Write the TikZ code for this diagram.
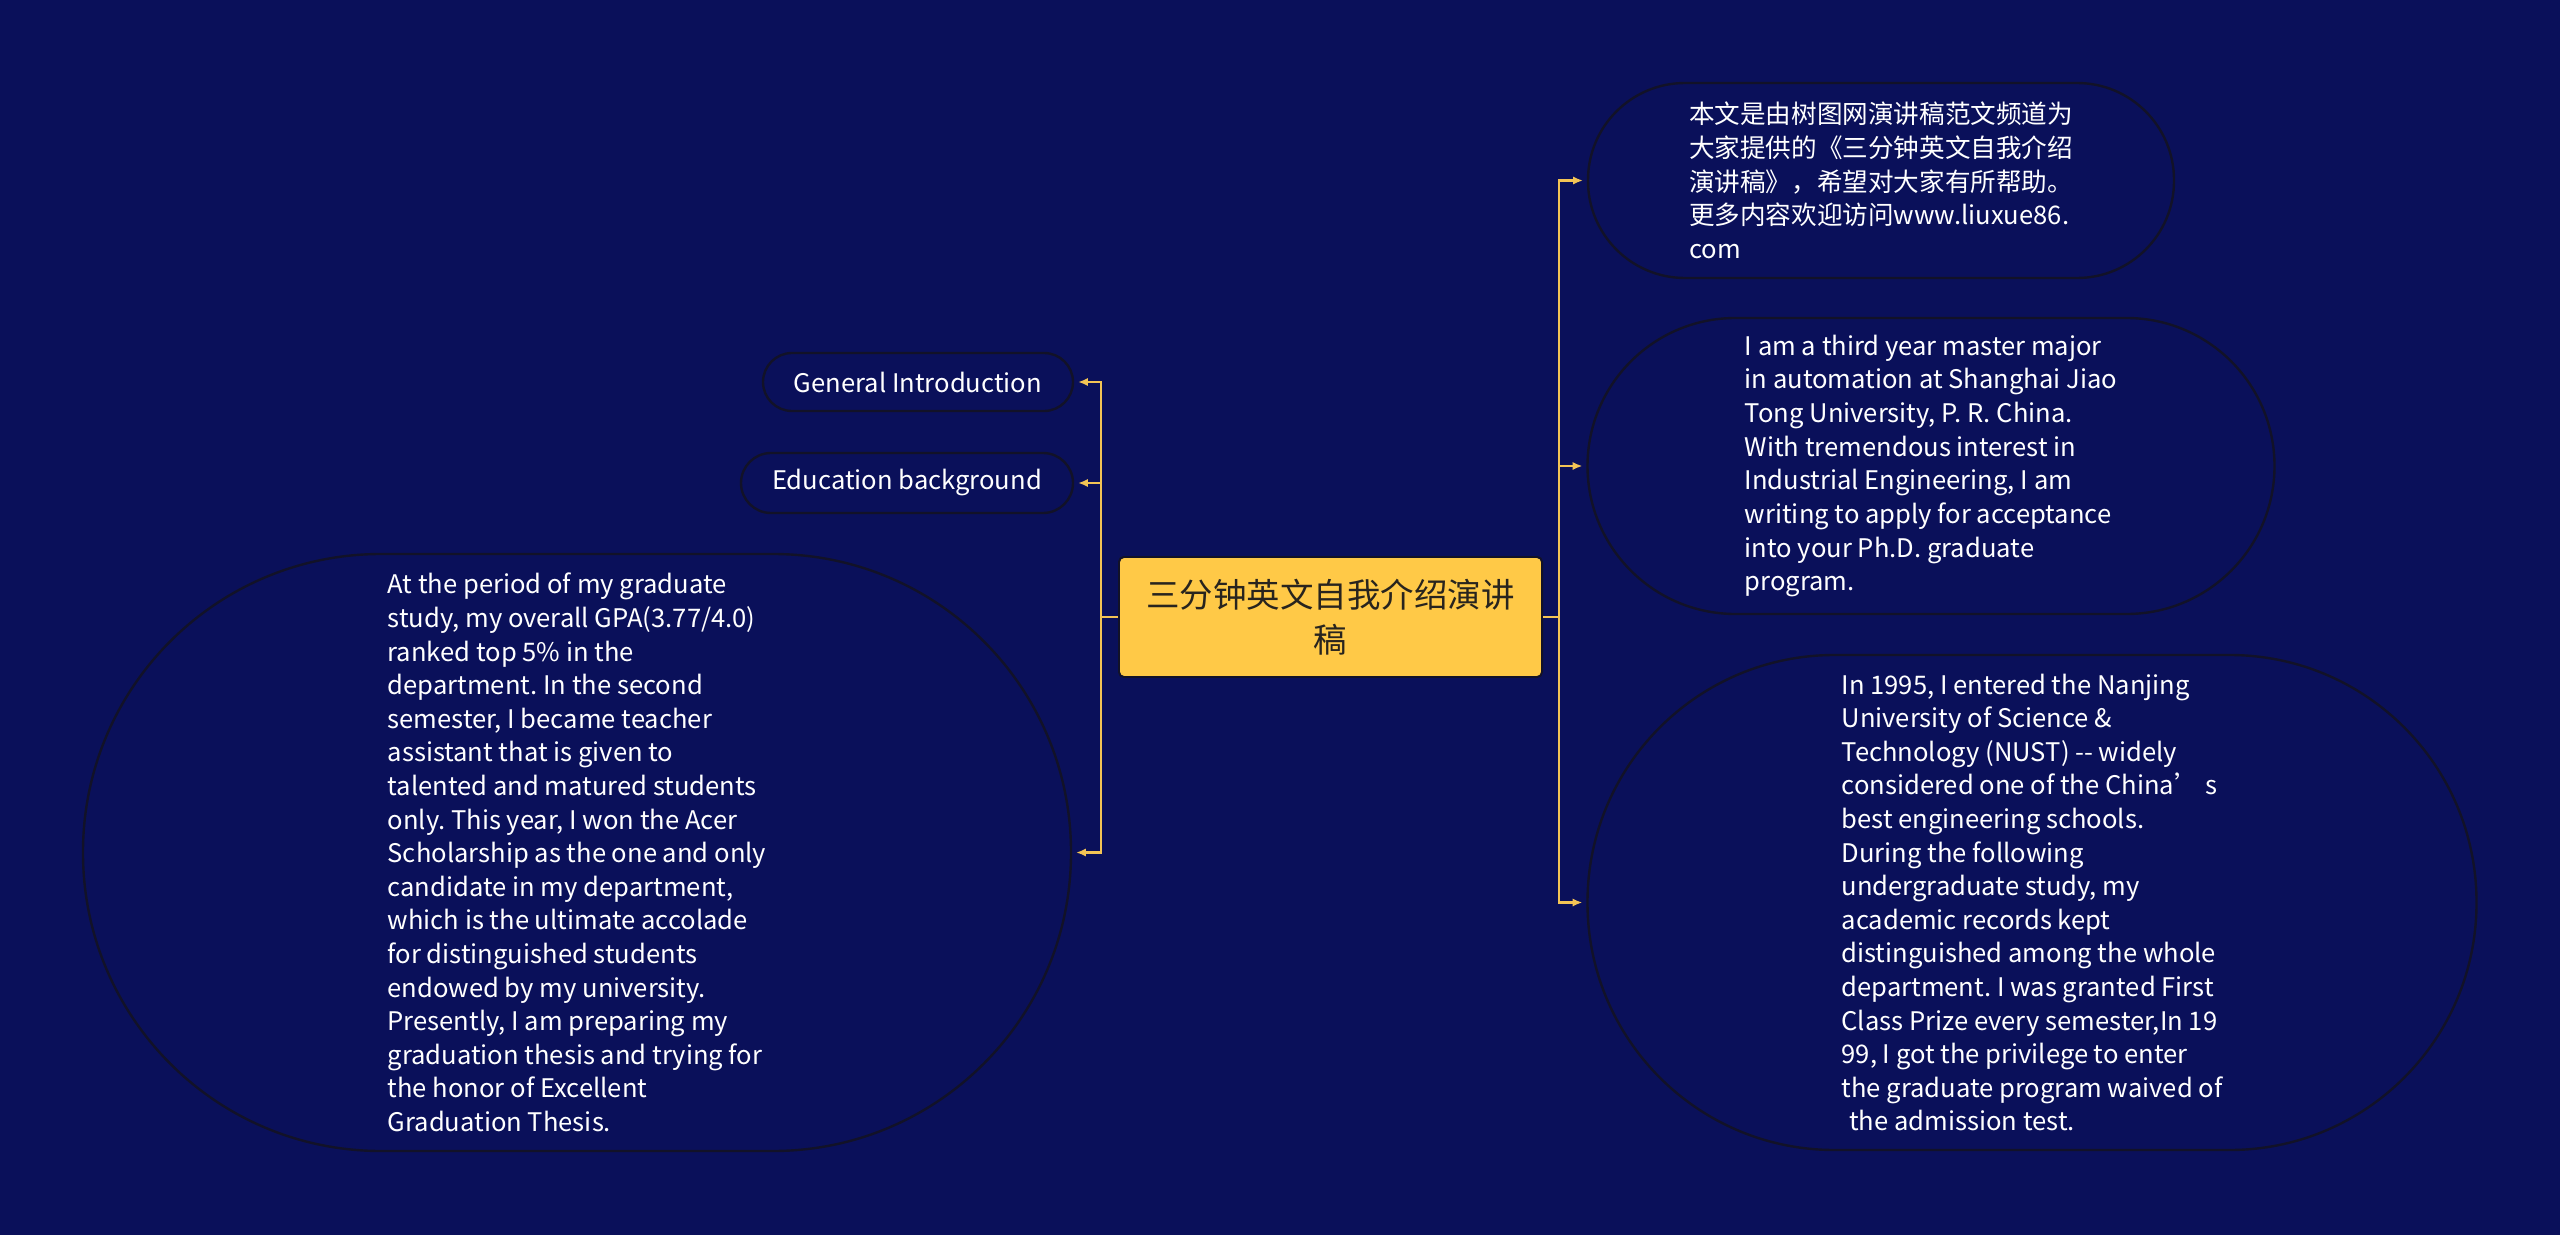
\documentclass[tikz,border=0pt]{standalone}
\usepackage{fontspec}
\setmainfont{Noto Sans CJK SC}
\usetikzlibrary{arrows.meta}
\frenchspacing
\definecolor{bgnavy}{RGB}{10,16,90}
\definecolor{nodeline}{RGB}{18,18,40}
\definecolor{gold}{RGB}{255,201,71}
\definecolor{connline}{RGB}{243,196,85}
\definecolor{darktext}{RGB}{40,36,30}
\tikzset{
  bodyfont/.style={font=\fontsize{18.2pt}{23.9pt}\selectfont\frenchspacing},
  pill/.style={draw=nodeline, line width=1.7pt, fill=bgnavy, text=white,
    inner sep=0pt, align=left, bodyfont},
  rootbox/.style={draw=nodeline, line width=1.4pt, fill=gold, text=darktext,
    rounded corners=3.5pt, align=center, inner sep=0pt,
    font=\fontsize{23.8pt}{32pt}\selectfont},
  conn/.style={draw=connline, line width=1.9pt,
    -{Latex[length=7pt,width=6pt]}, shorten >=2.8pt},
}
\begin{document}
\begin{tikzpicture}[x=0.025cm,y=-0.025cm]
\fill[bgnavy] (0,0) rectangle (2560,1235);
\useasboundingbox (0,0) rectangle (2560,1235);

\node[rootbox, minimum width=423*0.025cm, minimum height=120*0.025cm] (root) at (1330.5,617)
  {三分钟英文自我介绍演讲\\稿};

% left side
\node[pill, minimum width=310*0.025cm, minimum height=58*0.025cm, rounded corners=29*0.025cm] (gi) at (918,382)
  {General Introduction};
\node[pill, minimum width=332*0.025cm, minimum height=60*0.025cm, rounded corners=30*0.025cm] (eb) at (907,483)
  {Education background};
\node[pill, minimum width=988*0.025cm, minimum height=597*0.025cm, rounded corners=298*0.025cm] (bl) at (577,852.5)
  {At the period of my graduate\\
   study, my overall GPA(3.77/4.0)\\
   ranked top 5\% in the\\
   department. In the second\\
   semester, I became teacher\\
   assistant that is given to\\
   talented and matured students\\
   only. This year, I won the Acer\\
   Scholarship as the one and only\\
   candidate in my department,\\
   which is the ultimate accolade\\
   for distinguished students\\
   endowed by my university.\\
   Presently, I am preparing my\\
   graduation thesis and trying for\\
   the honor of Excellent\\
   Graduation Thesis.};

% right side
\node[pill, minimum width=586*0.025cm, minimum height=195*0.025cm, rounded corners=97*0.025cm] (rt) at (1881,180.5)
  {本文是由树图网演讲稿范文频道为\\
   大家提供的《三分钟英文自我介绍\\
   演讲稿》，希望对大家有所帮助。\\
   更多内容欢迎访问www.liuxue86.\\
   com};
\node[pill, minimum width=687*0.025cm, minimum height=296*0.025cm, rounded corners=148*0.025cm] (rm) at (1931,466)
  {I am a third year master major\\
   in automation at Shanghai Jiao\\
   Tong University, P. R. China.\\
   With tremendous interest in\\
   Industrial Engineering, I am\\
   writing to apply for acceptance\\
   into your Ph.D. graduate\\
   program.};
\node[pill, minimum width=889*0.025cm, minimum height=495*0.025cm, rounded corners=247*0.025cm] (rb) at (2032,902.5)
  {In 1995, I entered the Nanjing\\
   University of Science \&\\
   Technology (NUST) -{}- widely\\
   considered one of the China’ s\\
   best engineering schools.\\
   During the following\\
   undergraduate study, my\\
   academic records kept\\
   distinguished among the whole\\
   department. I was granted First\\
   Class Prize every semester,In 19\\
   99, I got the privilege to enter\\
   the graduate program waived of\\
   \hspace*{0.3em}the admission test.};

\coordinate (lt) at (1101,617);
\coordinate (rtk) at (1559,617);

\draw[conn] (root.west) -- (lt) |- (gi.east);
\draw[conn] (root.west) -- (lt) |- (eb.east);
\draw[conn] (root.west) -- (lt) |- (bl.east);
\draw[conn] (root.east) -- (rtk) |- (rt.west);
\draw[conn] (root.east) -- (rtk) |- (rm.west);
\draw[conn] (root.east) -- (rtk) |- (rb.west);
\end{tikzpicture}
\end{document}
